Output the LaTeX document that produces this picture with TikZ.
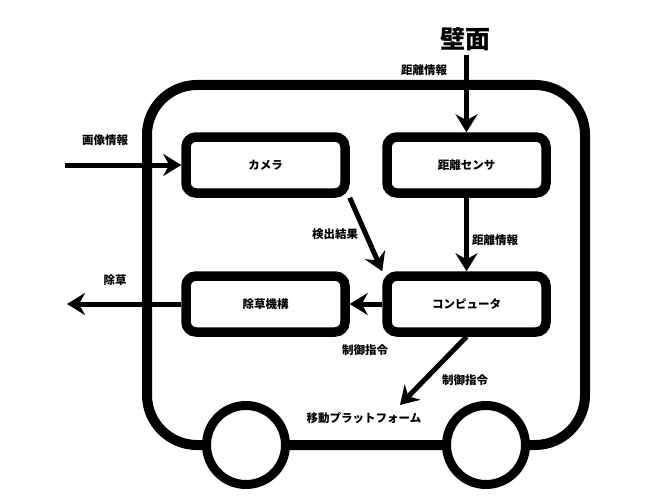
\documentclass[tikz,border=0pt]{standalone}
\usepackage{fontspec}
\setmainfont{Noto Sans CJK JP}
\usetikzlibrary{arrows.meta}
\begin{document}
\begin{tikzpicture}[x=1pt,y=-1pt,
  box/.style={draw, line width=9.5pt, rounded corners=10pt, minimum width=159pt,
    minimum height=56pt, fill=white, font=\bfseries\fontsize{11.5}{13}\selectfont},
  lbl/.style={inner sep=0pt, font=\bfseries\fontsize{11.5}{13}\selectfont},
  flow/.style={line width=5pt, -{Stealth[length=18pt,width=22pt,inset=6pt]}},
  wheel/.style={draw, circle, line width=9pt, fill=white, minimum size=79pt, inner sep=0pt}
]
\useasboundingbox (0,0) rectangle (650,500);
% body
\draw[line width=10pt, rounded corners=50pt] (147,85) rectangle (585,445);
% boxes
\node[box] (camera) at (265.5,165) {カメラ};
\node[box] (sensor) at (466.5,165) {距離センサ};
\node[box] (weeder) at (265.5,304) {除草機構};
\node[box] (computer) at (466.5,304) {コンピュータ};
% wheels
\node[wheel] (wheelL) at (246,445) {};
\node[wheel] (wheelR) at (486,445) {};
% wall
\node[inner sep=0pt, font=\bfseries\fontsize{25}{28}\selectfont] (wall) at (465,39) {壁面};
\coordinate (wallout) at (466.5,55);
\coordinate (imgin) at (65,165);
\coordinate (weedout) at (67,304);
\coordinate (moveend) at (400,405);
% connectors
\draw[flow] (wallout) -- (sensor.north);
\draw[flow] (imgin) -- (camera.west);
\draw[flow] (sensor.south) -- (computer.north);
\draw[flow] (camera.south east) -- (computer.north west);
\draw[flow] (computer.west) -- (weeder.east);
\draw[flow] (weeder.west) -- (weedout);
\draw[flow] (computer.south) -- (moveend);
% labels
\node[lbl] (l1) at (424,70) {距離情報};
\node[lbl] (l2) at (105,140) {画像情報};
\node[lbl] (l3) at (335,234) {検出結果};
\node[lbl] (l4) at (495,240) {距離情報};
\node[lbl] (l5) at (115,280) {除草};
\node[lbl] (l6) at (365,350) {制御指令};
\node[lbl] (l7) at (465,380) {制御指令};
\node[lbl] (l8) at (364,418) {移動プラットフォーム};
\end{tikzpicture}
\end{document}
